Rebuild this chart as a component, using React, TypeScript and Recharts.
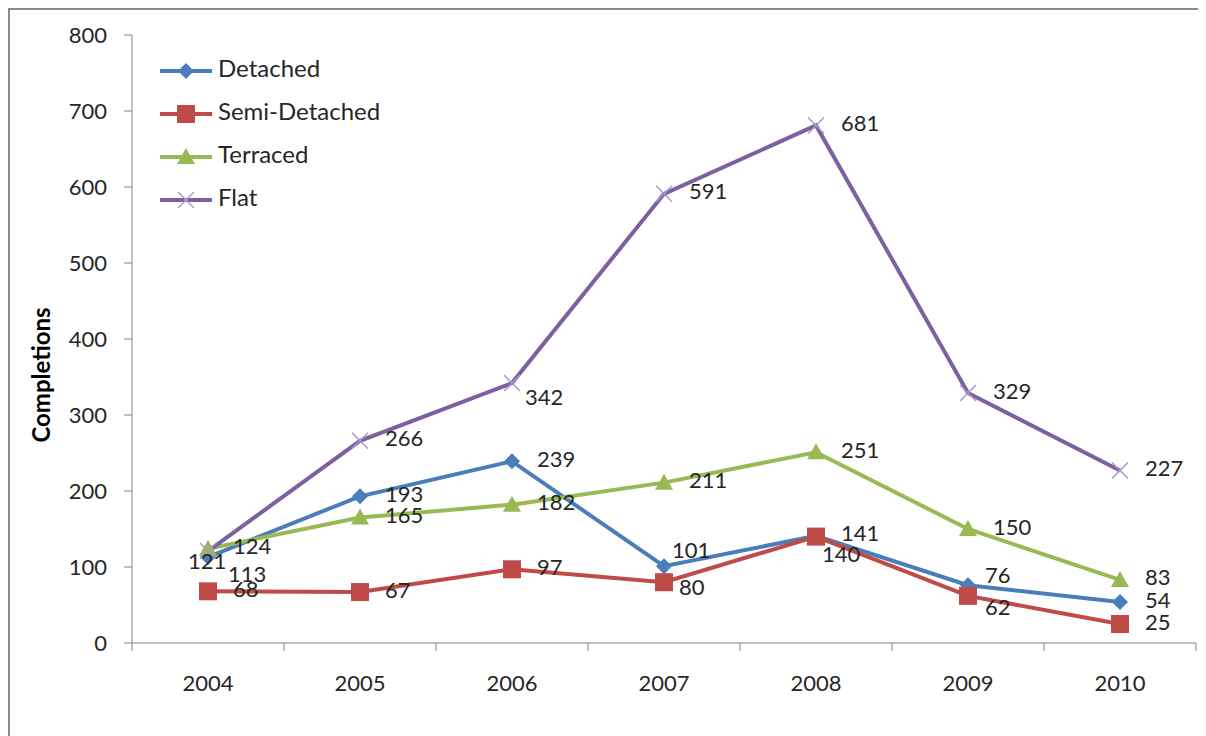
import React from "react";
import { LineChart, Line, XAxis, YAxis, LabelList, Legend } from "recharts";

const years = ["2004", "2005", "2006", "2007", "2008", "2009", "2010"];
const detached = [113, 193, 239, 101, 141, 76, 54];
const semiDetached = [68, 67, 97, 80, 140, 62, 25];
const terraced = [124, 165, 182, 211, 251, 150, 83];
const flat = [121, 266, 342, 591, 681, 329, 227];
const yTicks = [0, 100, 200, 300, 400, 500, 600, 700, 800];

const data = years.map((year, i) => ({
  year,
  detached: detached[i],
  semi: semiDetached[i],
  terraced: terraced[i],
  flat: flat[i],
}));

const FONT = "Lato, 'Open Sans', sans-serif";
const TEXT = "#262626";
const AXIS = "#868686";
const BAND = 152;

type Shape = "diamond" | "square" | "triangle" | "cross";

const series: { key: string; name: string; color: string; shape: Shape }[] = [
  { key: "detached", name: "Detached", color: "#4A7EBB", shape: "diamond" },
  { key: "semi", name: "Semi-Detached", color: "#BE4B48", shape: "square" },
  { key: "terraced", name: "Terraced", color: "#98B954", shape: "triangle" },
  { key: "flat", name: "Flat", color: "#7D60A0", shape: "cross" },
];

// nudges for labels that would otherwise collide
const labelShift: Record<string, Record<number, [number, number]>> = {
  detached: { 0: [20, 19], 3: [8, -14], 5: [17, -8] },
  semi: { 3: [15, 7], 4: [6, 20], 5: [17, 14] },
  flat: { 0: [-20, 12], 2: [13, 16] },
};

const Marker = ({ shape, color, cx, cy }: { shape: Shape; color: string; cx: number; cy: number }) => {
  if (shape === "diamond")
    return <polygon points={`${cx},${cy - 8} ${cx + 8},${cy} ${cx},${cy + 8} ${cx - 8},${cy}`} fill={color} />;
  if (shape === "square") return <rect x={cx - 9} y={cy - 9} width={18} height={18} fill={color} />;
  if (shape === "triangle")
    return <polygon points={`${cx},${cy - 9} ${cx + 9},${cy + 7} ${cx - 9},${cy + 7}`} fill={color} />;
  return (
    <g stroke="#A896CC" strokeWidth={1.5}>
      <line x1={cx - 8} y1={cy - 8} x2={cx + 8} y2={cy + 8} />
      <line x1={cx - 8} y1={cy + 8} x2={cx + 8} y2={cy - 8} />
    </g>
  );
};

const makeDot = (shape: Shape, color: string) => (props: any) =>
  <Marker key={`${shape}-${props.index}`} shape={shape} color={color} cx={props.cx} cy={props.cy} />;

const makeLabel = (key: string) => (props: any) => {
  const [dx, dy] = labelShift[key]?.[props.index] ?? [25, 0];
  return (
    <text
      x={props.x + dx}
      y={props.y + dy}
      dominantBaseline="middle"
      fontFamily={FONT}
      fontSize={22}
      fill={TEXT}
    >
      {props.value}
    </text>
  );
};

const XTick = (props: any) => {
  const { x, y, payload } = props;
  const last = payload.value === years[years.length - 1];
  return (
    <g>
      <line x1={x - BAND / 2} y1={y - 8} x2={x - BAND / 2} y2={y} stroke={AXIS} />
      {last && <line x1={x + BAND / 2} y1={y - 8} x2={x + BAND / 2} y2={y} stroke={AXIS} />}
      <text x={x} y={y + 34} textAnchor="middle" dominantBaseline="middle" fontFamily={FONT} fontSize={22} fill={TEXT}>
        {payload.value}
      </text>
    </g>
  );
};

const renderLegend = () => (
  <svg width={260} height={170}>
    {series.map((s, i) => {
      const cy = 16 + 43 * i;
      return (
        <g key={s.key}>
          <line x1={2} y1={cy} x2={54} y2={cy} stroke={s.color} strokeWidth={4} />
          <Marker shape={s.shape} color={s.color} cx={28} cy={cy} />
          <text x={60} y={cy} dominantBaseline="middle" fontFamily={FONT} fontSize={24} fill={TEXT}>
            {s.name}
          </text>
        </g>
      );
    })}
  </svg>
);

const App = () => {
  return (
    <div
      style={{
        width: 1196,
        height: 726,
        borderTop: "2px solid #8a8a8a",
        borderLeft: "2px solid #8a8a8a",
        borderBottom: "2px solid #8a8a8a",
        background: "#fff",
      }}
    >
      <style>{"html,body{overflow:hidden}"}</style>
      <LineChart width={1196} height={726} data={data} margin={{ top: 25, right: 10, left: 0, bottom: 53 }}>
        <XAxis
          dataKey="year"
          scale="band"
          height={40}
          interval={0}
          tickLine={false}
          tickSize={8}
          tickMargin={0}
          axisLine={{ stroke: AXIS }}
          tick={XTick}
        />
        <YAxis
          width={122}
          domain={[0, 800]}
          ticks={yTicks}
          interval={0}
          tickSize={8}
          tickMargin={17}
          stroke={AXIS}
          tick={{ fontFamily: FONT, fontSize: 22, fill: TEXT }}
          label={() => (
            <text
              x={34}
              y={365}
              transform="rotate(-90 34 365)"
              textAnchor="middle"
              dominantBaseline="middle"
              fontFamily={FONT}
              fontSize={24}
              fontWeight="bold"
              fill="#000"
            >
              Completions
            </text>
          )}
        />
        <Legend
          layout="vertical"
          align="center"
          verticalAlign="middle"
          wrapperStyle={{ left: 148, top: 45, width: 260 }}
          content={renderLegend}
        />
        {series.map((s) => (
          <Line
            key={s.key}
            dataKey={s.key}
            name={s.name}
            stroke={s.color}
            strokeWidth={4}
            dot={makeDot(s.shape, s.color)}
            activeDot={false}
            isAnimationActive={false}
          >
            <LabelList dataKey={s.key} content={makeLabel(s.key)} />
          </Line>
        ))}
      </LineChart>
    </div>
  );
};

export default App;
